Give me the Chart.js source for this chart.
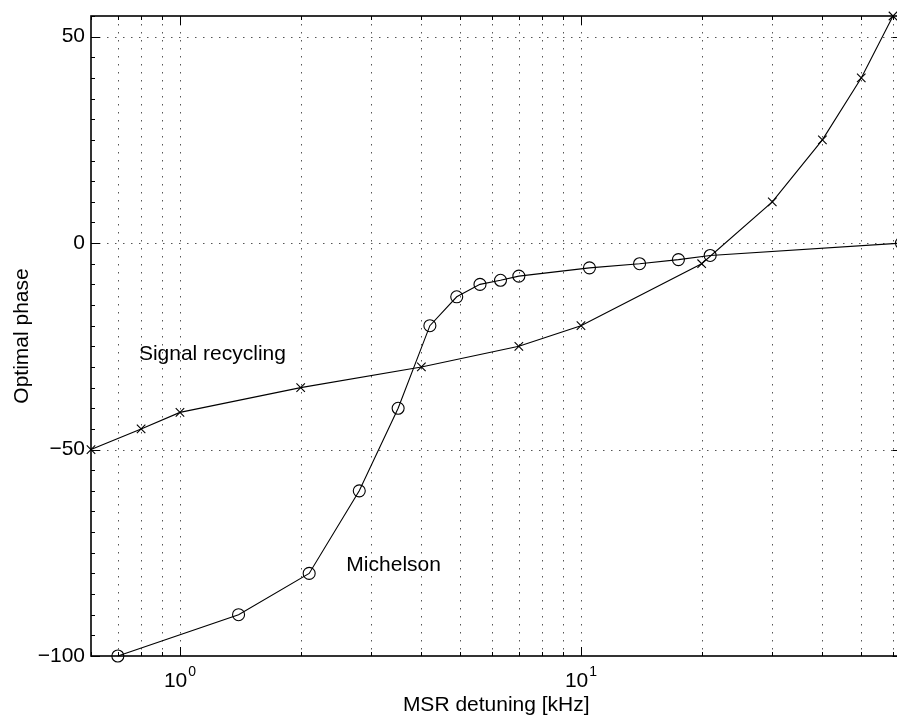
<!DOCTYPE html>
<html>
<head>
<meta charset="utf-8">
<script src="https://cdn.jsdelivr.net/npm/chart.js@4.4.1/dist/chart.umd.min.js"></script>
<style>
  html, body { margin: 0; padding: 0; background: #fff; }
  #wrap { width: 897px; height: 722px; position: relative; overflow: hidden; }
</style>
</head>
<body>
<div id="wrap"><canvas id="c" width="897" height="722"></canvas></div>
<script>
// Signal-recycled interferometer: optimal phase vs MSR detuning (kHz)
const srDetuning = [0.6, 0.8, 1, 2, 4, 7, 10, 20, 30, 40, 50, 60];
const srPhase    = [-50, -45, -41, -35, -30, -25, -20, -5, 10, 25, 40, 55];

// Conventional Michelson: optimal phase vs MSR detuning (kHz)
const michDetuning = [0.7, 1.4, 2.1, 2.8, 3.5, 4.2, 4.9, 5.6, 6.3, 7, 10.5, 14, 17.5, 21, 63];
const michPhase    = [-100, -90, -80, -60, -40, -20, -13, -10, -9, -8, -6, -5, -4, -3, 0];

// Axis ticks and labels
const xGridValues  = [0.6, 0.7, 0.8, 0.9, 1, 2, 3, 4, 5, 6, 7, 8, 9, 10, 20, 30, 40, 50, 60];
const xMajorTicks  = [1, 10];
const xTickBase    = ['10', '10'];
const xTickExp     = ['0', '1'];
const yMajorTicks  = [-100, -50, 0, 50];
const yTickLabels  = ['\u2212100', '\u221250', '0', '50'];

const xTitle = 'MSR detuning [kHz]';
const yTitle = 'Optimal phase';
const curveNames = ['Signal recycling', 'Michelson'];
const curveLabelAt = [[0.79, -27], [2.6, -78]];

const FONT = '"Liberation Sans", Arial, Helvetica, sans-serif';
// plot box in canvas pixels; the right side runs just past the canvas edge
const BOX = { left: 91, top: 16, right: 901.5, bottom: 656 };

const boxPlugin = {
  id: 'fixedBox',
  afterLayout(chart) {
    const { x, y } = chart.scales;
    Object.assign(chart.chartArea, BOX, { width: BOX.right - BOX.left, height: BOX.bottom - BOX.top });
    x.left = BOX.left; x.right = BOX.right; x.width = BOX.right - BOX.left;
    x.top = BOX.bottom; x.bottom = chart.height; x.height = chart.height - BOX.bottom;
    y.left = 0; y.right = BOX.left; y.width = BOX.left;
    y.top = BOX.top; y.bottom = BOX.bottom; y.height = BOX.bottom - BOX.top;
    x.configure();
    y.configure();
  }
};

const axesPlugin = {
  id: 'matlabAxes',
  beforeDatasetsDraw(chart) {
    const { ctx, chartArea: a, scales: { x, y } } = chart;
    ctx.save();
    // dotted grid
    ctx.strokeStyle = '#555';
    ctx.lineWidth = 1;
    ctx.setLineDash([1.5, 6.5]);
    xGridValues.forEach(v => {
      const px = Math.round(x.getPixelForValue(v)) + 0.5;
      if (px <= a.left + 1) return;
      ctx.beginPath(); ctx.moveTo(px, a.top); ctx.lineTo(px, a.bottom); ctx.stroke();
    });
    yMajorTicks.forEach(v => {
      const py = Math.round(y.getPixelForValue(v)) + 0.5;
      if (py >= a.bottom - 1) return;
      ctx.beginPath(); ctx.moveTo(a.left, py); ctx.lineTo(a.right, py); ctx.stroke();
    });
    ctx.setLineDash([]);
    // tick marks, pointing inward
    ctx.strokeStyle = '#000';
    ctx.lineWidth = 1;
    xGridValues.forEach(v => {
      const px = Math.round(x.getPixelForValue(v)) + 0.5;
      const len = xMajorTicks.includes(v) ? 9 : 4;
      ctx.beginPath();
      ctx.moveTo(px, a.bottom); ctx.lineTo(px, a.bottom - len);
      ctx.moveTo(px, a.top); ctx.lineTo(px, a.top + len);
      ctx.stroke();
    });
    for (let v = y.min; v <= y.max; v += 5) {
      const py = Math.round(y.getPixelForValue(v)) + 0.5;
      const len = yMajorTicks.includes(v) ? 9 : 4;
      ctx.beginPath();
      ctx.moveTo(a.left, py); ctx.lineTo(a.left + len, py);
      ctx.moveTo(a.right, py); ctx.lineTo(a.right - len, py);
      ctx.stroke();
    }
    // axes box
    ctx.lineWidth = 1.6;
    ctx.strokeRect(a.left, a.top, a.right - a.left, a.bottom - a.top);
    ctx.restore();
  },
  afterDraw(chart) {
    const { ctx, chartArea: a, scales: { x, y } } = chart;
    ctx.save();
    ctx.fillStyle = '#000';
    // x tick labels as 10 with superscript exponent
    xMajorTicks.forEach((v, i) => {
      const px = x.getPixelForValue(v);
      ctx.font = '21px ' + FONT;
      const wb = ctx.measureText(xTickBase[i]).width;
      ctx.font = '14px ' + FONT;
      const we = ctx.measureText(xTickExp[i]).width;
      const start = px - (wb + we + 1) / 2;
      ctx.textAlign = 'left';
      ctx.textBaseline = 'alphabetic';
      ctx.font = '21px ' + FONT;
      ctx.fillText(xTickBase[i], start, 687);
      ctx.font = '14px ' + FONT;
      ctx.fillText(xTickExp[i], start + wb + 1, 676);
    });
    // axis titles
    ctx.font = '21px ' + FONT;
    ctx.textAlign = 'center';
    ctx.textBaseline = 'middle';
    ctx.fillText(xTitle, (a.left + a.right) / 2, 705);
    ctx.save();
    ctx.translate(22, (a.top + a.bottom) / 2);
    ctx.rotate(-Math.PI / 2);
    ctx.fillText(yTitle, 0, 0);
    ctx.restore();
    // curve labels
    ctx.textAlign = 'left';
    curveNames.forEach((name, i) => {
      ctx.fillText(name, x.getPixelForValue(curveLabelAt[i][0]), y.getPixelForValue(curveLabelAt[i][1]));
    });
    ctx.restore();
  }
};

const toPoints = (xs, ys) => xs.map((v, i) => ({ x: v, y: ys[i] }));

new Chart(document.getElementById('c'), {
  type: 'scatter',
  data: {
    datasets: [
      {
        label: curveNames[0],
        data: toPoints(srDetuning, srPhase),
        showLine: true,
        borderColor: '#000',
        borderWidth: 1.1,
        pointStyle: 'crossRot',
        pointRadius: 6,
        pointBorderColor: '#000',
        pointBorderWidth: 1.1,
        clip: false
      },
      {
        label: curveNames[1],
        data: toPoints(michDetuning, michPhase),
        showLine: true,
        borderColor: '#000',
        borderWidth: 1.1,
        pointStyle: 'circle',
        pointRadius: 6,
        pointBackgroundColor: 'rgba(0,0,0,0)',
        pointBorderColor: '#000',
        pointBorderWidth: 1.1,
        clip: false
      }
    ]
  },
  options: {
    responsive: false,
    animation: false,
    devicePixelRatio: 1,
    layout: { padding: { top: 16, right: 0, left: 0, bottom: 0 } },
    plugins: { legend: { display: false }, tooltip: { enabled: false } },
    scales: {
      x: {
        type: 'logarithmic',
        min: 0.6,
        max: 63,
        grid: { display: false, drawTicks: false },
        border: { display: false },
        ticks: { display: false },
        afterBuildTicks: s => { s.ticks = xGridValues.map(v => ({ value: v })); },
        afterFit: s => { s.height = 66; }
      },
      y: {
        type: 'linear',
        min: -100,
        max: 55,
        grid: { display: false, drawTicks: false },
        border: { display: false },
        ticks: {
          stepSize: 5,
          autoSkip: false,
          padding: 6,
          color: '#000',
          font: { family: FONT, size: 21 },
          callback: v => {
            const i = yMajorTicks.indexOf(v);
            return i >= 0 ? yTickLabels[i] : '';
          }
        },
        afterFit: s => { s.width = 91; }
      }
    }
  },
  plugins: [boxPlugin, axesPlugin]
});
</script>
</body>
</html>
